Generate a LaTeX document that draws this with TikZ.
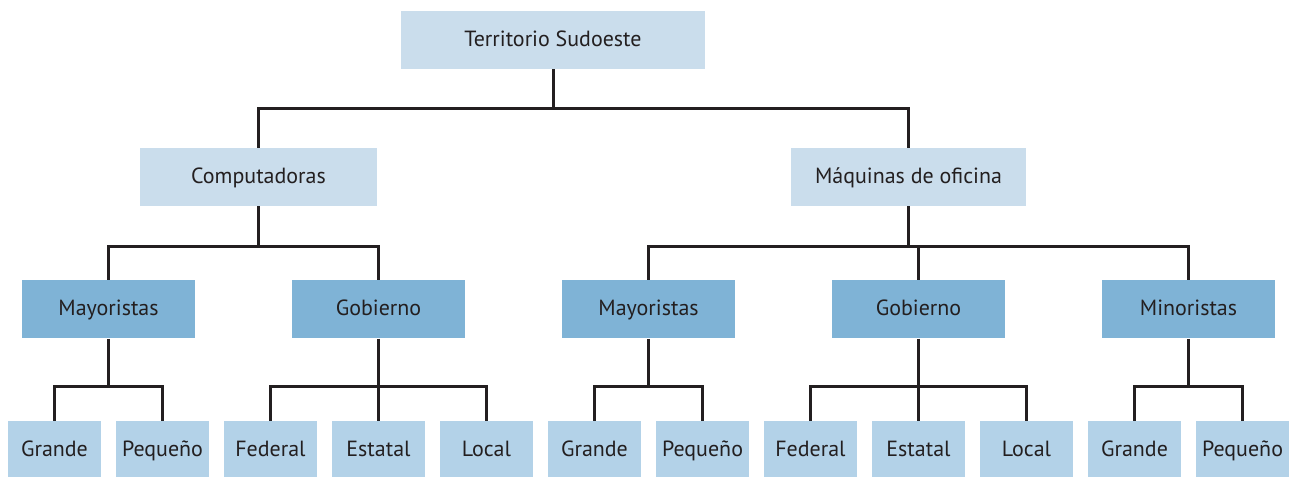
\documentclass[tikz,border=0pt]{standalone}
\usepackage{fontspec}
\setmainfont{PT Sans}
\usepackage{xcolor}
\usepackage{tikz}

\definecolor{paleblue}{HTML}{CADDEC}
\definecolor{midblue}{HTML}{7FB3D6}
\definecolor{leafblue}{HTML}{B3D2E8}
\definecolor{inkgray}{HTML}{231F20}

\begin{document}
\begin{tikzpicture}[
  every node/.style={font=\fontsize{12.5}{15}\selectfont, text=inkgray,
    text height=0.34cm, text depth=0.08cm},
  headbox/.style={
    rectangle, fill=paleblue,
    minimum width=#1, minimum height=1.16cm,
    inner sep=0pt, align=center},
  groupbox/.style={
    rectangle, fill=midblue,
    minimum width=3.46cm, minimum height=1.16cm,
    inner sep=0pt, align=center},
  leafbox/.style={
    rectangle, fill=leafblue,
    minimum width=1.86cm, minimum height=1.16cm,
    inner sep=0pt, align=center},
  link/.style={line width=0.06cm, draw=inkgray}
]
\useasboundingbox (0,0) rectangle (25.98,-9.54);

%% ── LEVEL 1 / 2 ──────────────────────────────────────────
\node[headbox=6.08cm] (terr) at (11.06,-0.80) {Territorio Sudoeste};
\node[headbox=4.74cm] (comp) at (5.17,-3.54)  {Computadoras};
\node[headbox=4.70cm] (maq)  at (18.17,-3.54) {Máquinas de oficina};

%% ── LEVEL 3 ──────────────────────────────────────────────
\node[groupbox] (cmay) at (2.17,-6.19)  {Mayoristas};
\node[groupbox] (cgob) at (7.57,-6.19)  {Gobierno};
\node[groupbox] (mmay) at (12.97,-6.19) {Mayoristas};
\node[groupbox] (mgob) at (18.37,-6.19) {Gobierno};
\node[groupbox] (mmin) at (23.77,-6.19) {Minoristas};

%% ── LEVEL 4 ──────────────────────────────────────────────
\node[leafbox] (cmay1) at (1.09,-9.00)  {Grande};
\node[leafbox] (cmay2) at (3.25,-9.00)  {Pequeño};
\node[leafbox] (cgob1) at (5.41,-9.00)  {Federal};
\node[leafbox] (cgob2) at (7.57,-9.00)  {Estatal};
\node[leafbox] (cgob3) at (9.73,-9.00)  {Local};
\node[leafbox] (mmay1) at (11.89,-9.00) {Grande};
\node[leafbox] (mmay2) at (14.05,-9.00) {Pequeño};
\node[leafbox] (mgob1) at (16.21,-9.00) {Federal};
\node[leafbox] (mgob2) at (18.37,-9.00) {Estatal};
\node[leafbox] (mgob3) at (20.53,-9.00) {Local};
\node[leafbox] (mmin1) at (22.69,-9.00) {Grande};
\node[leafbox] (mmin2) at (24.85,-9.00) {Pequeño};

%% Connectors
\foreach \kid in {comp,maq}
  \draw[link] (terr.south) -- ++(0,-0.78) -| (\kid.north);
\foreach \p/\kid in {comp/cmay, comp/cgob, maq/mmay, maq/mgob, maq/mmin}
  \draw[link] (\p.south) -- ++(0,-0.80) -| (\kid.north);
\foreach \p/\kid in {cmay/cmay1, cmay/cmay2, cgob/cgob1, cgob/cgob2, cgob/cgob3,
                     mmay/mmay1, mmay/mmay2, mgob/mgob1, mgob/mgob2, mgob/mgob3,
                     mmin/mmin1, mmin/mmin2}
  \draw[link] (\p.south) -- ++(0,-0.96) -| (\kid.north);

\end{tikzpicture}
\end{document}
